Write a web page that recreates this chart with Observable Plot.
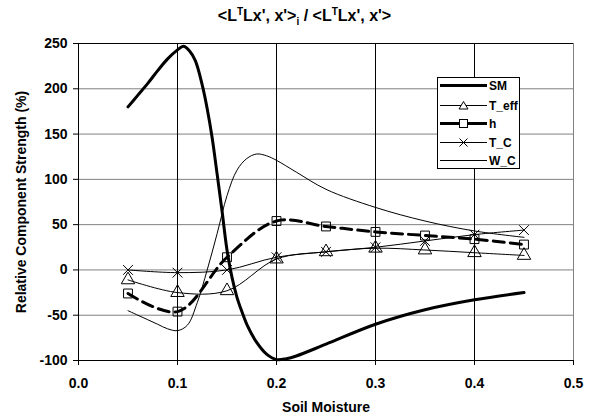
<!DOCTYPE html>
<html>
<head>
<meta charset="utf-8">
<script src="https://cdn.jsdelivr.net/npm/d3@7"></script>
<script src="https://cdn.jsdelivr.net/npm/@observablehq/plot@0.6"></script>
<style>
  html, body { margin: 0; padding: 0; background: white; }
  #wrap { position: relative; width: 593px; height: 416px; font-family: 'Liberation Sans', Arial, sans-serif; }
  #title { position: absolute; top: 6px; left: 8px; width: 593px; text-align: center; font-weight: bold; font-size: 16px; line-height: 20px; white-space: nowrap; }
  #title sup, #title sub { font-size: 10px; line-height: 0; }
  #legend { position: absolute; left: 437px; top: 77px; }
</style>
</head>
<body>
<div id="wrap">
  <div id="chart"></div>
  <div id="title">&lt;L<sup>T</sup>Lx', x'&gt;<sub>i</sub> / &lt;L<sup>T</sup>Lx', x'&gt;</div>
  <svg id="legend" width="84" height="93"></svg>
</div>
<script>
// ---- data ----
const xTicks = [0, 0.1, 0.2, 0.3, 0.4, 0.5];
const yTicks = [-100, -50, 0, 50, 100, 150, 200, 250];

// SM (dense smooth curve)
const smX = [0.05, 0.06, 0.07, 0.08, 0.09, 0.10, 0.106, 0.112, 0.118, 0.125, 0.13, 0.135, 0.14, 0.145, 0.15, 0.155, 0.16, 0.165, 0.17, 0.18, 0.19, 0.20, 0.21, 0.22, 0.25, 0.30, 0.35, 0.40, 0.45];
const smY = [180, 193, 206, 220, 233, 243, 247, 242, 231, 204, 178, 146, 106, 65, 22, -8, -30, -46, -60, -80, -93, -99, -98, -95, -82, -60, -44, -33, -25];

// W_C (dense smooth curve)
const wcX = [0.05, 0.06, 0.07, 0.08, 0.09, 0.10, 0.11, 0.12, 0.13, 0.14, 0.15, 0.16, 0.17, 0.18, 0.19, 0.20, 0.22, 0.25, 0.30, 0.35, 0.40, 0.45];
const wcY = [-45, -50, -55, -60, -65, -67, -61, -36, 0, 40, 82, 110, 123, 128, 126, 121, 108, 89, 69, 54, 43, 36];

// marker series
const mX = [0.05, 0.10, 0.15, 0.20, 0.25, 0.30, 0.35, 0.40, 0.45];
const tEff = [-11, -25, -23, 12, 20, 24, 22, 19, 16];
const hVals = [-26, -46, 14, 54, 48, 42, 38, 34, 28];
const tC = [0, -3, 0, 14, 20, 25, 32, 39, 44];

const seriesNames = ["SM", "T_eff", "h", "T_C", "W_C"];

// ---- build tables ----
const sm = smX.map((x, i) => ({x, y: smY[i]}));
const wc = wcX.map((x, i) => ({x, y: wcY[i]}));
const te = mX.map((x, i) => ({x, y: tEff[i]}));
const hh = mX.map((x, i) => ({x, y: hVals[i]}));
const tc = mX.map((x, i) => ({x, y: tC[i]}));

const curve = "catmull-rom";

const chart = Plot.plot({
  width: 593,
  height: 416,
  marginLeft: 78,
  marginRight: 20,
  marginTop: 43,
  marginBottom: 56,
  x: {domain: [0, 0.5]},
  y: {domain: [-100, 250]},
  style: {fontFamily: "'Liberation Sans', Arial, sans-serif", fontSize: "14px", fontWeight: "bold", background: "white", color: "black"},
  marks: [
    Plot.ruleY(yTicks.filter(d => d > -100 && d < 250), {stroke: "#808080"}),
    Plot.ruleX(xTicks.filter(d => d > 0 && d < 0.5), {stroke: "black"}),
    Plot.ruleY([250], {stroke: "black"}),
    Plot.ruleX([0.5], {stroke: "#808080"}),
    Plot.axisX({ticks: xTicks, tickFormat: d => d.toFixed(1), tickSize: 5, tickPadding: 13, label: null, fontSize: 14}),
    Plot.axisY({ticks: yTicks, tickFormat: d => String(d), tickSize: 5, tickPadding: 6, label: null, fontSize: 14}),
    Plot.ruleY([-100], {stroke: "black"}),
    Plot.ruleX([0], {stroke: "black"}),
    Plot.line(wc, {x: "x", y: "y", stroke: "black", strokeWidth: 1, curve}),
    Plot.line(te, {x: "x", y: "y", stroke: "black", strokeWidth: 1, curve}),
    Plot.line(tc, {x: "x", y: "y", stroke: "black", strokeWidth: 1, curve}),
    Plot.line(hh, {x: "x", y: "y", stroke: "black", strokeWidth: 3, strokeDasharray: "11,6", curve}),
    Plot.line(sm, {x: "x", y: "y", stroke: "black", strokeWidth: 3, curve}),
    Plot.dot(te, {x: "x", y: "y", symbol: "triangle", r: 5, stroke: "black", fill: "none", strokeWidth: 1}),
    Plot.dot(hh, {x: "x", y: "y", symbol: "square", r: 5, stroke: "black", fill: "none", strokeWidth: 1}),
    Plot.dot(tc, {x: "x", y: "y", symbol: "times", r: 4.5, stroke: "black", strokeWidth: 1}),
    Plot.text(["Soil Moisture"], {text: d => d, frameAnchor: "bottom", dy: 47, textAnchor: "middle", lineAnchor: "middle", fontSize: 14, fontWeight: "bold"}),
    Plot.text(["Relative Component Strength (%)"], {text: d => d, frameAnchor: "left", rotate: -90, dx: -57, textAnchor: "middle", lineAnchor: "middle", fontSize: 14, fontWeight: "bold"})
  ]
});
document.getElementById("chart").appendChild(chart);

// ---- legend ----
const lg = d3.select("#legend");
lg.append("rect").attr("x", 0.5).attr("y", 0.5).attr("width", 82).attr("height", 91)
  .attr("fill", "white").attr("stroke", "black");
const rowsY = [8.5, 28.5, 46.5, 65.5, 83.5];
const styles = [
  {w: 3, sym: null},
  {w: 1, sym: "tri"},
  {w: 3, sym: "sq"},
  {w: 1, sym: "x"},
  {w: 1, sym: null}
];
seriesNames.forEach((name, i) => {
  const y = rowsY[i], s = styles[i];
  lg.append("line").attr("x1", 3).attr("x2", 50).attr("y1", y).attr("y2", y)
    .attr("stroke", "black").attr("stroke-width", s.w);
  const cx = 26.5;
  if (s.sym === "tri") {
    lg.append("path").attr("d", `M${cx},${y-4}L${cx+4.5},${y+3.5}L${cx-4.5},${y+3.5}Z`)
      .attr("fill", "white").attr("stroke", "black");
  } else if (s.sym === "sq") {
    lg.append("rect").attr("x", cx - 4).attr("y", y - 4).attr("width", 8).attr("height", 8)
      .attr("fill", "white").attr("stroke", "black");
  } else if (s.sym === "x") {
    lg.append("path").attr("d", `M${cx-4},${y-4}L${cx+4},${y+4}M${cx-4},${y+4}L${cx+4},${y-4}`)
      .attr("stroke", "black");
  }
  lg.append("text").attr("x", 52).attr("y", y + 4.5).text(name)
    .attr("font-family", "'Liberation Sans', Arial, sans-serif").attr("font-size", 12).attr("font-weight", "bold");
});
</script>
</body>
</html>
